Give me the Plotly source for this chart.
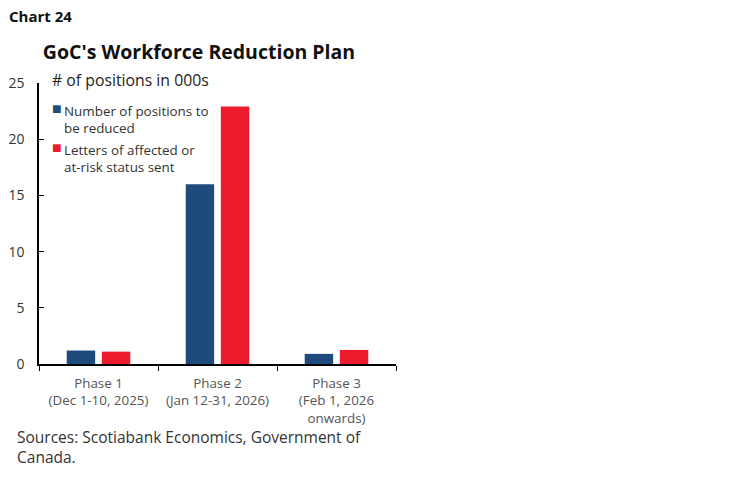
import plotly.graph_objects as go

phases = ["Phase 1<br>(Dec 1-10, 2025)", "Phase 2<br>(Jan 12-31, 2026)", "Phase 3<br>(Feb 1, 2026<br>onwards)"]
positions_reduced = [1.2, 16.0, 0.9]
letters_sent = [1.1, 22.9, 1.25]
y_ticks = [0, 5, 10, 15, 20, 25]

BLUE = "#1f4a7c"
RED = "#ec1c2e"
FONT = "Open Sans"

# plot area in pixels: x 39..396, y 83..364
PL, PR, PT, PB = 39, 396, 83, 364


def px(x):
    return (x - PL) / (PR - PL)


def py(y):
    return (PB - y) / (PB - PT)


fig = go.Figure()

fig.add_trace(go.Bar(
    x=phases,
    y=positions_reduced,
    name="Number of positions to be reduced",
    marker=dict(color=BLUE, line=dict(width=0)),
    showlegend=False
))
fig.add_trace(go.Bar(
    x=phases,
    y=letters_sent,
    name="Letters of affected or at-risk status sent",
    marker=dict(color=RED, line=dict(width=0)),
    showlegend=False
))

# legend drawn by hand: small square + two-line label
legend_items = [
    (BLUE, "Number of positions to<br>be reduced", 100),
    (RED, "Letters of affected or<br>at-risk status sent", 139),
]
for color, label, top in legend_items:
    fig.add_annotation(
        x=px(50), y=py(top + 8), xref="paper", yref="paper",
        xanchor="left", yanchor="middle", showarrow=False,
        text="■", font=dict(family=FONT, size=16, color=color)
    )
    fig.add_annotation(
        x=px(62), y=py(top), xref="paper", yref="paper",
        xanchor="left", yanchor="top", align="left", showarrow=False,
        text=label,
        font=dict(family=FONT, size=13.4, color="#333333")
    )

fig.add_annotation(
    x=px(50), y=py(80), xref="paper", yref="paper",
    xanchor="left", yanchor="middle", showarrow=False,
    text="# of positions in 000s",
    font=dict(family=FONT, size=15.8, color="#222222")
)
fig.add_annotation(
    x=px(7), y=py(16), xref="paper", yref="paper",
    xanchor="left", yanchor="middle", showarrow=False,
    text="<b>Chart 24</b>",
    font=dict(family=FONT, size=15, color="#111111")
)
fig.add_annotation(
    x=px(15), y=py(424), xref="paper", yref="paper",
    xanchor="left", yanchor="top", align="left", showarrow=False,
    text="Sources: Scotiabank Economics, Government of<br>Canada.",
    font=dict(family=FONT, size=15.5, color="#333333")
)

fig.update_layout(
    width=749, height=482,
    margin=dict(l=PL, r=749 - PR, t=PT, b=482 - PB),
    paper_bgcolor="white", plot_bgcolor="white",
    barmode="group", bargap=0.41, bargroupgap=0.19,
    font=dict(family=FONT, color="#333333"),
    title=dict(
        text="<b>GoC's Workforce Reduction Plan</b>",
        x=199 / 749, xanchor="center", y=1 - 52 / 482, yanchor="middle",
        font=dict(family=FONT, size=19.5, color="#111111")
    ),
    xaxis=dict(
        showline=True, linecolor="black", linewidth=1.5,
        ticks="outside", tickson="boundaries", ticklen=5, tickcolor="black",
        ticklabelstandoff=6,
        tickfont=dict(family=FONT, size=13.4, color="#555555"),
        showgrid=False, automargin=False
    ),
    yaxis=dict(
        range=[0, 25], tickvals=y_ticks,
        showline=True, linecolor="black", linewidth=1.5,
        ticks="inside", ticklen=5, tickcolor="black",
        ticklabelstandoff=10,
        tickfont=dict(family=FONT, size=14, color="#333333"),
        showgrid=False, zeroline=False, automargin=False
    ),
)

fig.write_html("out.html", config={"displayModeBar": False},
               post_script="document.body.style.margin='0';")
